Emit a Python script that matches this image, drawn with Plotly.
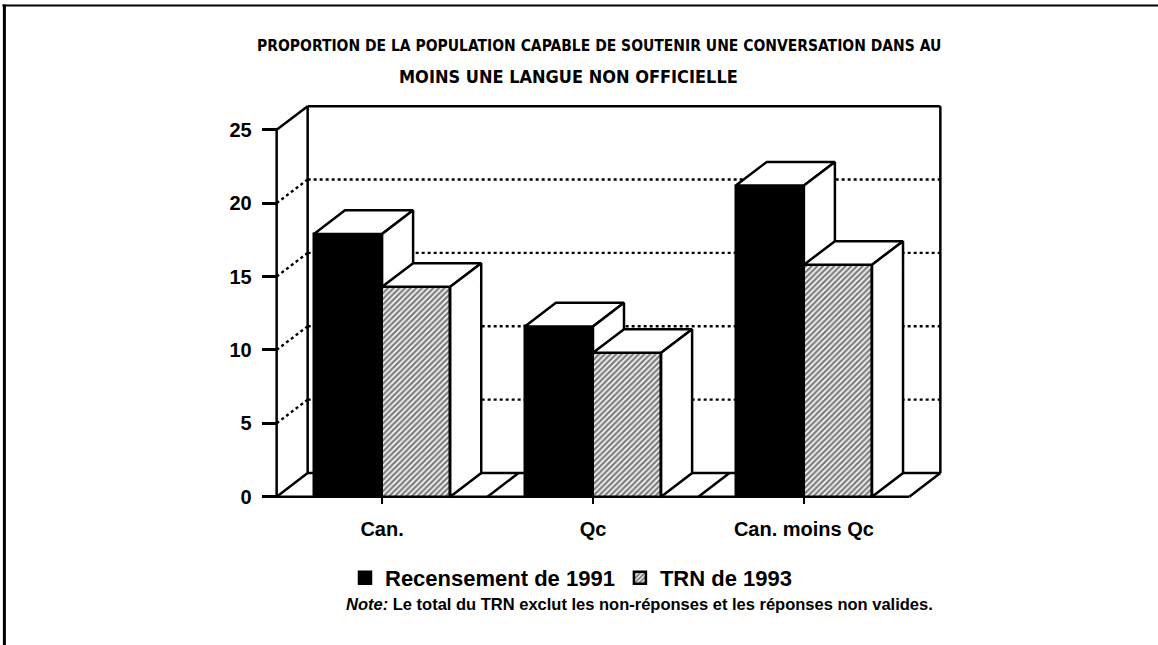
import plotly.graph_objects as go

# ---------------- data ----------------
categories = ["Can.", "Qc", "Can. moins Qc"]
recensement_1991 = [17.9, 11.6, 21.2]
trn_1993 = [14.3, 9.8, 15.8]
y_ticks = [0, 5, 10, 15, 20, 25]
series_names = ["Recensement de 1991", "TRN de 1993"]
title_lines = ["PROPORTION DE LA POPULATION CAPABLE DE SOUTENIR UNE CONVERSATION DANS AU",
               "MOINS UNE LANGUE NON OFFICIELLE"]
note_label = "Note:"
note_text = "Le total du TRN exclut les non-réponses et les réponses non valides."

# ---------------- geometry / style ----------------
W, H = 1158, 645
BAR_W = 0.323          # width of one bar (category units)
DX, DY = 0.147, 1.61   # oblique depth offset (x units, y units)
YMAX = y_ticks[-1]
X0, X1 = -0.5, len(categories) - 0.5
PX_X0, PX_PER_X = 277, 210.7
PX_Y0, PX_PER_Y = 502, 14.88
xr = [X0 - 0.06, X1 + DX + 0.06]
yr = [-0.35, YMAX + DY + 0.35]
left = PX_X0 + (xr[0] - X0) * PX_PER_X
right = PX_X0 + (xr[1] - X0) * PX_PER_X
bottom = PX_Y0 - yr[0] * PX_PER_Y
top = PX_Y0 - yr[1] * PX_PER_Y
plot_w, plot_h = right - left, bottom - top


def pxx(px):
    return (px - left) / plot_w


def pxy(py):
    return (bottom - py) / plot_h


FONT = "Liberation Sans, Arial, sans-serif"
TFONT = "Liberation Sans Narrow, Arial Narrow, DejaVu Sans Condensed, Liberation Sans"
LW = 2.5
BLACK = "black"

fig = go.Figure()

# front faces as bars
fig.add_trace(go.Bar(
    x=list(range(len(categories))), y=recensement_1991, name=series_names[0],
    width=BAR_W, offset=-BAR_W,
    marker=dict(color=BLACK, line=dict(color=BLACK, width=LW)),
))
fig.add_trace(go.Bar(
    x=list(range(len(categories))), y=trn_1993, name=series_names[1],
    width=BAR_W, offset=0,
    marker=dict(color="white", line=dict(color=BLACK, width=LW),
                pattern=dict(shape="/", fgcolor=BLACK, bgcolor="white", size=4, solidity=0.62)),
))


def poly(xs, ys):
    fig.add_trace(go.Scatter(
        x=xs + [xs[0]], y=ys + [ys[0]], mode="lines", fill="toself",
        fillcolor="white", line=dict(color=BLACK, width=LW),
        showlegend=False, hoverinfo="skip", cliponaxis=False,
    ))


for i in range(len(categories)):
    vb, vt = recensement_1991[i], trn_1993[i]
    # 1991 bar: top face
    poly([i - BAR_W, i, i + DX, i - BAR_W + DX], [vb, vb, vb + DY, vb + DY])
    # 1991 bar: visible part of the side face (above the TRN bar)
    if vb > vt:
        poly([i, i, i + DX, i + DX], [vt, vb, vb + DY, vt])
    # TRN bar: top face
    poly([i, i + BAR_W, i + BAR_W + DX, i + DX], [vt, vt, vt + DY, vt + DY])
    # TRN bar: side face
    poly([i + BAR_W, i + BAR_W, i + BAR_W + DX, i + BAR_W + DX], [0, vt, vt + DY, DY])

shapes = []


def seg(x0, y0, x1, y1, dash="solid", width=LW, layer="below"):
    shapes.append(dict(type="line", xref="x", yref="y", x0=x0, y0=y0, x1=x1, y1=y1,
                       line=dict(color=BLACK, width=width, dash=dash), layer=layer))


# back-wall and side-wall dotted gridlines
for v in y_ticks[1:-1]:
    seg(X0 + DX, v + DY, X1 + DX, v + DY, dash="dot", width=2.4)
    seg(X0, v, X0 + DX, v + DY, dash="dot", width=2.4)
# walls
seg(X0 + DX, DY, X0 + DX, YMAX + DY)
seg(X0 + DX, YMAX + DY, X1 + DX, YMAX + DY)
seg(X1 + DX, DY, X1 + DX, YMAX + DY)
seg(X0, YMAX, X0 + DX, YMAX + DY)
seg(X0, 0, X0, YMAX)
# floor
seg(X0, 0, X1, 0)
seg(X0 + DX, DY, X1 + DX, DY)
for xb in [X0 + k for k in range(len(categories) + 1)]:
    seg(xb, 0, xb + DX, DY)

# page frame
shapes.append(dict(type="line", xref="paper", yref="paper", x0=pxx(5), x1=pxx(5), y0=pxy(3), y1=pxy(660),
                   line=dict(color=BLACK, width=3)))
shapes.append(dict(type="line", xref="paper", yref="paper", x0=pxx(3), x1=pxx(1158), y0=pxy(4), y1=pxy(4),
                   line=dict(color=BLACK, width=2)))

annotations = [
    dict(text="<b>" + title_lines[0] + "</b>", x=pxx(599), y=pxy(45), xref="paper", yref="paper",
         showarrow=False, xanchor="center", yanchor="middle",
         font=dict(family=TFONT, size=15.5, color=BLACK)),
    dict(text="<b>" + title_lines[1] + "</b>", x=pxx(569), y=pxy(76), xref="paper", yref="paper",
         showarrow=False, xanchor="center", yanchor="middle",
         font=dict(family=TFONT, size=18, color=BLACK)),
    dict(text="<b><i>" + note_label + "</i> " + note_text + "</b>", x=pxx(640), y=pxy(611),
         xref="paper", yref="paper", showarrow=False, xanchor="center", yanchor="middle",
         font=dict(family=FONT, size=16.5, color=BLACK)),
]

fig.update_layout(
    width=W, height=H, autosize=False,
    margin=dict(l=left, r=W - right, t=top, b=H - bottom, pad=0),
    paper_bgcolor="white", plot_bgcolor="white",
    barmode="overlay", bargap=0,
    shapes=shapes, annotations=annotations,
    font=dict(family=FONT, color=BLACK),
    showlegend=True,
    legend=dict(orientation="h", xref="container", yref="container",
                x=571 / W, y=1 - 578 / H, xanchor="center", yanchor="middle",
                font=dict(family=FONT, size=22, weight="bold", color=BLACK),
                bgcolor="rgba(0,0,0,0)", itemwidth=30, traceorder="normal"),
    xaxis=dict(range=xr, tickmode="array", tickvals=list(range(len(categories))), ticktext=categories,
               showgrid=False, zeroline=False, showline=False,
               ticks="outside", ticklen=6, tickwidth=2, tickcolor=BLACK,
               anchor="free", position=(0 - yr[0]) / (yr[1] - yr[0]),
               ticklabelstandoff=8,
               tickfont=dict(family=FONT, size=20, weight="bold", color=BLACK), fixedrange=True),
    yaxis=dict(range=yr, tickmode="array", tickvals=y_ticks,
               showgrid=False, zeroline=False, showline=False,
               ticks="outside", ticklen=15, tickwidth=2.5, tickcolor=BLACK,
               anchor="free", position=(X0 - xr[0]) / (xr[1] - xr[0]),
               ticklabelstandoff=6,
               tickfont=dict(family=FONT, size=20, weight="bold", color=BLACK), fixedrange=True),
)

fig.write_html("out.html", config={"displayModeBar": False},
               post_script="document.body.style.margin='0';document.body.style.overflow='hidden';")
